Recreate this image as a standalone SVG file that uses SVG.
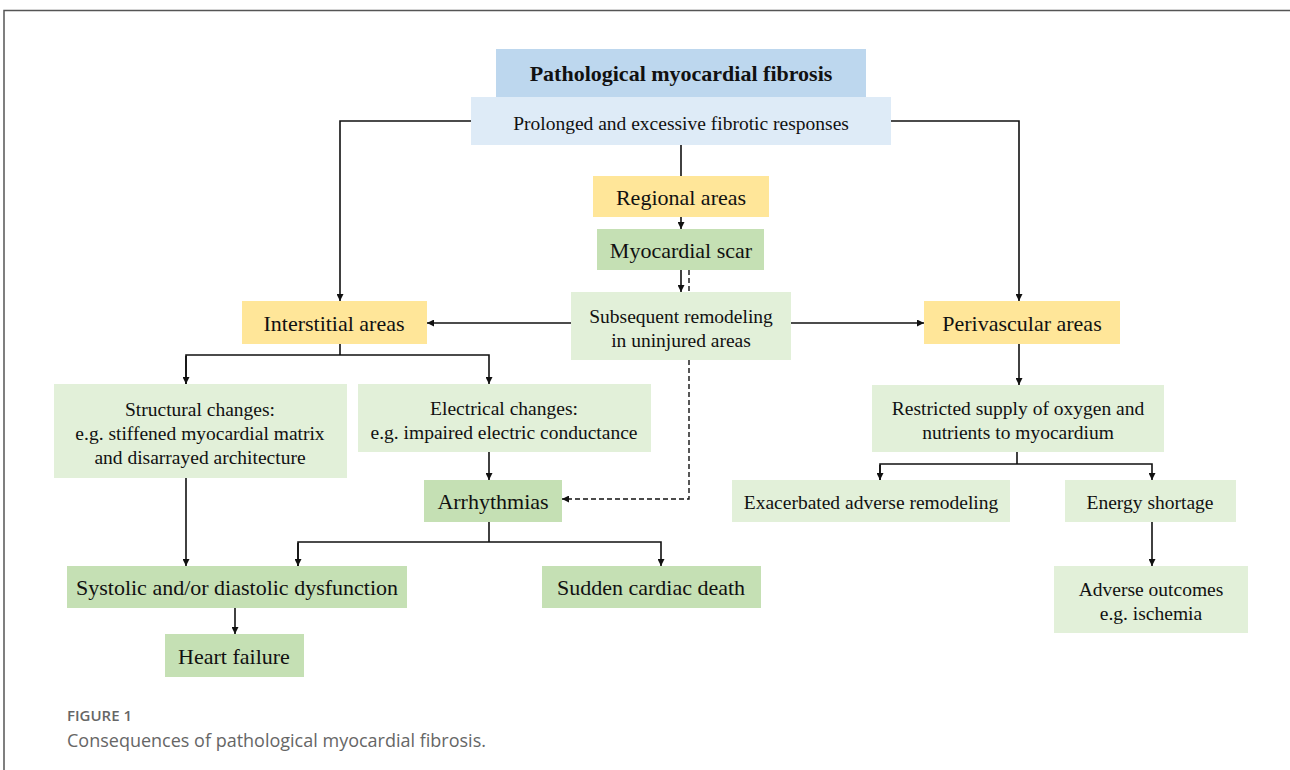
<svg xmlns="http://www.w3.org/2000/svg" width="1290" height="770" viewBox="0 0 1290 770">
<style>
.t{font-family:"Liberation Serif","Times New Roman",serif;fill:#111;text-anchor:middle}
.s17{font-size:19.5px}
.s19{font-size:22px}
.hb{fill:#bdd7ee}.lb{fill:#deebf7}.ye{fill:#ffe699}.dg{fill:#c5e0b4}.lg{fill:#e2f0d9}
.c{fill:none;stroke:#111;stroke-width:1.6}
.d{fill:none;stroke:#111;stroke-width:1.4;stroke-dasharray:5,3}
</style>
<defs>
<marker id="ah" viewBox="0 0 10 10" refX="10" refY="5" markerWidth="7" markerHeight="7" markerUnits="userSpaceOnUse" orient="auto">
<path d="M0,0 L10,5 L0,10 Z" fill="#111"/>
</marker>
</defs>
<rect x="0" y="0" width="1290" height="770" fill="#fff"/>
<path d="M4,770 L4,10.5 L1290,10.5" fill="none" stroke="#555" stroke-width="1.5"/>

<g id="connectors">
<path class="c" d="M471,121 H340 V301" marker-end="url(#ah)"/>
<path class="c" d="M891,121 H1019 V301" marker-end="url(#ah)"/>
<path class="c" d="M681,145 V176"/>
<path class="c" d="M681,217 V229" marker-end="url(#ah)"/>
<path class="c" d="M681,270 V292" marker-end="url(#ah)"/>
<path class="d" d="M689,270 V292"/>
<path class="d" d="M689,360 V499 H562" marker-end="url(#ah)"/>
<path class="c" d="M571,323 H427" marker-end="url(#ah)"/>
<path class="c" d="M791,323 H924" marker-end="url(#ah)"/>
<path class="c" d="M340,344 V355"/>
<path class="c" d="M186,384 V355 H489 V384" marker-end="url(#ah)"/>
<path class="c" d="M186,356 V384" marker-end="url(#ah)"/>
<path class="c" d="M186,478 V566" marker-end="url(#ah)"/>
<path class="c" d="M489,452 V480" marker-end="url(#ah)"/>
<path class="c" d="M489,522 V542"/>
<path class="c" d="M298,566 V542 H661 V566" marker-end="url(#ah)"/>
<path class="c" d="M298,543 V566" marker-end="url(#ah)"/>
<path class="c" d="M235,608 V634" marker-end="url(#ah)"/>
<path class="c" d="M1019,344 V385" marker-end="url(#ah)"/>
<path class="c" d="M1017,452 V464"/>
<path class="c" d="M880,480 V464 H1152 V480" marker-end="url(#ah)"/>
<path class="c" d="M880,465 V480" marker-end="url(#ah)"/>
<path class="c" d="M1152,522 V566" marker-end="url(#ah)"/>
</g>

<g id="n-header"><rect class="hb" x="496" y="49" width="370" height="48"/><text class="t" x="681" y="81" font-size="22" font-weight="bold">Pathological myocardial fibrosis</text></g>
<g id="n-prolonged"><rect class="lb" x="471" y="97" width="420" height="48"/><text class="t s17" x="681" y="130">Prolonged and excessive fibrotic responses</text></g>
<g id="n-regional"><rect class="ye" x="593" y="176" width="176" height="41"/><text class="t s19" x="681" y="205">Regional areas</text></g>
<g id="n-scar"><rect class="dg" x="597" y="229" width="167" height="41"/><text class="t s19" x="681" y="258">Myocardial scar</text></g>
<g id="n-subsequent"><rect class="lg" x="571" y="292" width="220" height="68"/><text class="t s17" x="681" y="323">Subsequent remodeling</text><text class="t s17" x="681" y="347">in uninjured areas</text></g>
<g id="n-interstitial"><rect class="ye" x="242" y="301" width="185" height="43"/><text class="t s19" x="334" y="331">Interstitial areas</text></g>
<g id="n-perivascular"><rect class="ye" x="924" y="301" width="196" height="43"/><text class="t s19" x="1022" y="331">Perivascular areas</text></g>
<g id="n-structural"><rect class="lg" x="54" y="384" width="293" height="94"/><text class="t s17" x="200" y="416">Structural changes:</text><text class="t s17" x="200" y="440">e.g. stiffened myocardial matrix</text><text class="t s17" x="200" y="464">and disarrayed architecture</text></g>
<g id="n-electrical"><rect class="lg" x="358" y="384" width="293" height="68"/><text class="t s17" x="504" y="415">Electrical changes:</text><text class="t s17" x="504" y="439">e.g. impaired electric conductance</text></g>
<g id="n-restricted"><rect class="lg" x="872" y="385" width="292" height="67"/><text class="t s17" x="1018" y="415">Restricted supply of oxygen and</text><text class="t s17" x="1018" y="439">nutrients to myocardium</text></g>
<g id="n-arrhythmias"><rect class="dg" x="424" y="480" width="138" height="42"/><text class="t s19" x="493" y="509">Arrhythmias</text></g>
<g id="n-exacerbated"><rect class="lg" x="732" y="480" width="278" height="42"/><text class="t s17" x="871" y="509">Exacerbated adverse remodeling</text></g>
<g id="n-energy"><rect class="lg" x="1065" y="480" width="171" height="42"/><text class="t s17" x="1150" y="509">Energy shortage</text></g>
<g id="n-systolic"><rect class="dg" x="67" y="566" width="340" height="42"/><text class="t s19" x="237" y="595">Systolic and/or diastolic dysfunction</text></g>
<g id="n-sudden"><rect class="dg" x="542" y="566" width="219" height="42"/><text class="t s19" x="651" y="595">Sudden cardiac death</text></g>
<g id="n-heart"><rect class="dg" x="165" y="634" width="139" height="43"/><text class="t s19" x="234" y="664">Heart failure</text></g>
<g id="n-adverse"><rect class="lg" x="1054" y="566" width="194" height="67"/><text class="t s17" x="1151" y="596">Adverse outcomes</text><text class="t s17" x="1151" y="620">e.g. ischemia</text></g>

<g id="caption">
<text x="67" y="721" font-family="'Open Sans',sans-serif" font-size="15" font-weight="600" fill="#666">FIGURE 1</text>
<text x="67" y="747" font-family="'Open Sans',sans-serif" font-size="18" fill="#666">Consequences of pathological myocardial fibrosis.</text>
</g>
</svg>
